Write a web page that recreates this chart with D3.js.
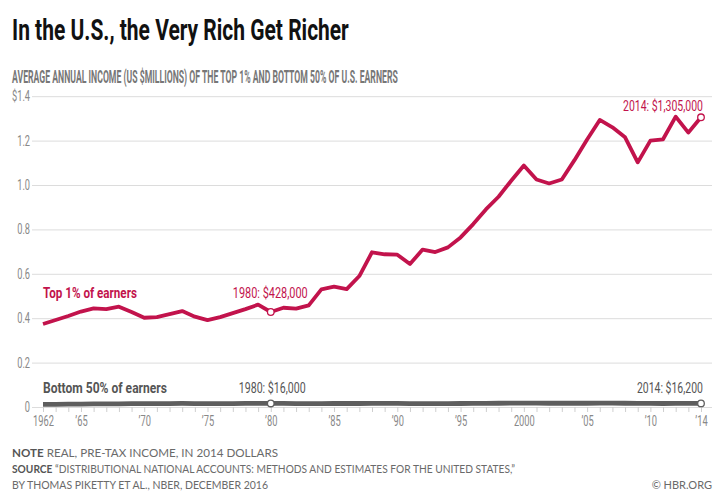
<!DOCTYPE html>
<html>
<head>
<meta charset="utf-8">
<script src="https://cdn.jsdelivr.net/npm/d3@7"></script>
<style>
  html, body { margin: 0; padding: 0; background: #fff; }
  svg { display: block; }
  .cond { font-family: 'Roboto', 'DejaVu Sans', sans-serif; }
  .foot { font-family: 'Lato', 'Open Sans', sans-serif; }
</style>
</head>
<body>
<svg id="chart" width="725" height="500"></svg>
<script>
// ---- data ----
const years = d3.range(1962, 2015);
const top1 = [0.374, 0.392, 0.410, 0.430, 0.444, 0.441, 0.452, 0.428, 0.402, 0.405,
  0.418, 0.432, 0.407, 0.391, 0.405, 0.423, 0.441, 0.461, 0.428, 0.447,
  0.443, 0.458, 0.530, 0.542, 0.531, 0.590, 0.697, 0.688, 0.686, 0.644,
  0.709, 0.698, 0.719, 0.764, 0.824, 0.890, 0.947, 1.019, 1.088, 1.025,
  1.007, 1.025, 1.112, 1.205, 1.293, 1.260, 1.215, 1.102, 1.200, 1.206,
  1.308, 1.236, 1.305];
// bottom 50%, in US$ thousands
const bottom50k = [11.9, 12.2, 12.8, 13.3, 13.8, 14.0, 14.5, 14.9, 14.8, 14.9,
  15.4, 15.9, 15.6, 15.1, 15.4, 15.6, 16.2, 16.3, 16.0, 15.9,
  15.4, 15.2, 15.6, 15.7, 15.7, 15.8, 16.0, 16.1, 16.0, 15.6,
  15.6, 15.4, 15.6, 15.8, 15.9, 16.3, 16.9, 17.3, 17.6, 17.2,
  16.9, 16.8, 16.9, 17.0, 17.3, 17.4, 16.9, 16.3, 16.0, 15.8,
  15.9, 16.0, 16.2];
const yTicks = [0, 0.2, 0.4, 0.6, 0.8, 1.0, 1.2, 1.4];
const yTickLabels = ["0", "0.2", "0.4", "0.6", "0.8", "1.0", "1.2", "$1.4"];
const xTicks = [1962, 1965, 1970, 1975, 1980, 1985, 1990, 1995, 2000, 2005, 2010, 2014];
const xTickLabels = ["1962", "\u201965", "\u201970", "\u201975", "\u201980", "\u201985", "\u201990", "\u201995", "2000", "\u201905", "\u201910", "\u201914"];

const title = "In the U.S., the Very Rich Get Richer";
const subtitle = "AVERAGE ANNUAL INCOME (US $MILLIONS) OF THE TOP 1% AND BOTTOM 50% OF U.S. EARNERS";

const RED = "#c2134c";
const GREY = "#5e5e5e";

const svg = d3.select("#chart");

const x = d3.scaleLinear().domain([1962, 2014]).range([43, 701]);
const y = d3.scaleLinear().domain([0, 1.4]).range([407, 96.2]);

// condensed text: scale horizontally so the text spans width w from its left edge
function condText(txt, left, baseline, w, size, weight, color) {
  const t = svg.append("text").attr("class", "cond")
    .attr("x", 0).attr("y", 0)
    .attr("font-size", size).attr("font-weight", weight).attr("fill", color)
    .text(txt);
  const n = t.node().getComputedTextLength();
  t.attr("transform", `translate(${left},${baseline}) scale(${w / n},1)`);
  return t;
}

// title & subtitle
condText(title, 12, 40, 337, 29, "bold", "#111");
condText(subtitle, 12, 82.5, 386, 18.5, "bold", "#777");

// y axis + gridlines
const yAxis = svg.append("g").attr("class", "cond")
  .attr("transform", "translate(32,0)")
  .call(d3.axisLeft(y).tickValues(yTicks)
    .tickFormat((d, i) => yTickLabels[i])
    .tickSize(-680).tickPadding(3));
yAxis.select(".domain").remove();
yAxis.selectAll("line").attr("stroke", "#dcdcdc").attr("stroke-width", 1);
yAxis.selectAll("text").attr("fill", "#888").attr("font-size", 14)
  .attr("font-family", null).attr("transform", "scale(0.66,1)");

// minor x ticks (each year)
const xMinor = svg.append("g")
  .attr("transform", "translate(0,407)")
  .call(d3.axisBottom(x).tickValues(years).tickSize(5).tickFormat(""));
xMinor.select(".domain").remove();
xMinor.selectAll("line").attr("stroke", "#cfcfcf");

// x labels
const xAxis = svg.append("g").attr("class", "cond")
  .attr("transform", "translate(0,407)")
  .call(d3.axisBottom(x).tickValues(xTicks)
    .tickFormat((d, i) => xTickLabels[i]).tickSize(0).tickPadding(8));
xAxis.select(".domain").remove();
xAxis.selectAll("text").attr("fill", "#888").attr("font-size", 15)
  .attr("font-family", null).attr("transform", "scale(0.62,1)");

// lines
const line = d3.line().x((d, i) => x(years[i])).y(d => y(d));
svg.append("path").datum(bottom50k.map(v => v / 1000))
  .attr("d", line).attr("fill", "none")
  .attr("stroke", GREY).attr("stroke-width", 4.8).attr("stroke-linejoin", "round");
svg.append("path").datum(top1)
  .attr("d", line).attr("fill", "none")
  .attr("stroke", RED).attr("stroke-width", 3.8).attr("stroke-linejoin", "round");

// highlighted points
const hi = [1980, 2014];
hi.forEach(yr => {
  const i = years.indexOf(yr);
  svg.append("circle").attr("cx", x(yr)).attr("cy", y(top1[i])).attr("r", 3.3)
    .attr("fill", "#fff").attr("stroke", RED).attr("stroke-width", 1.3);
  svg.append("circle").attr("cx", x(yr)).attr("cy", y(bottom50k[i] / 1000)).attr("r", 3.3)
    .attr("fill", "#fff").attr("stroke", GREY).attr("stroke-width", 1.3);
});

// annotations
const fmt = d3.format(",");
const i80 = years.indexOf(1980), i14 = years.indexOf(2014);
condText("Top 1% of earners", 43, 298, 94, 14.5, "bold", RED);
condText("1980: $" + fmt(Math.round(top1[i80] * 1e6)), x(1980) - 38, 298, 75, 14.5, "normal", RED);
condText("2014: $" + fmt(Math.round(top1[i14] * 1e6)), 703 - 80, 110.5, 80, 14.5, "normal", RED);
condText("Bottom 50% of earners", 43, 393, 124, 14.5, "bold", "#555");
condText("1980: $" + fmt(Math.round(bottom50k[i80] * 1000)), x(1980) - 32, 393, 67, 14.5, "normal", "#555");
condText("2014: $" + fmt(Math.round(bottom50k[i14] * 1000)), 703 - 66, 393, 66, 14.5, "normal", "#555");

// footer
const f1 = svg.append("text").attr("class", "foot").attr("x", 12).attr("y", 457)
  .attr("font-size", 11).attr("fill", "#6a6a6a")
  .attr("textLength", 266).attr("lengthAdjust", "spacingAndGlyphs");
f1.append("tspan").attr("font-weight", "bold").attr("fill", "#555").text("NOTE");
f1.append("tspan").text(" REAL, PRE-TAX INCOME, IN 2014 DOLLARS");
const f2 = svg.append("text").attr("class", "foot").attr("x", 12).attr("y", 473)
  .attr("font-size", 11).attr("fill", "#6a6a6a")
  .attr("textLength", 503).attr("lengthAdjust", "spacingAndGlyphs");
f2.append("tspan").attr("font-weight", "bold").attr("fill", "#555").text("SOURCE");
f2.append("tspan").text("  \u201cDISTRIBUTIONAL NATIONAL ACCOUNTS: METHODS AND ESTIMATES FOR THE UNITED STATES,\u201d");
svg.append("text").attr("class", "foot").attr("x", 12).attr("y", 489)
  .attr("font-size", 11).attr("fill", "#6a6a6a")
  .attr("textLength", 256).attr("lengthAdjust", "spacingAndGlyphs")
  .text("BY THOMAS PIKETTY ET AL., NBER, DECEMBER 2016");
svg.append("text").attr("class", "foot").attr("x", 712).attr("y", 489)
  .attr("text-anchor", "end").attr("font-size", 11).attr("fill", "#6a6a6a")
  .text("\u00a9 HBR.ORG");
</script>
</body>
</html>
